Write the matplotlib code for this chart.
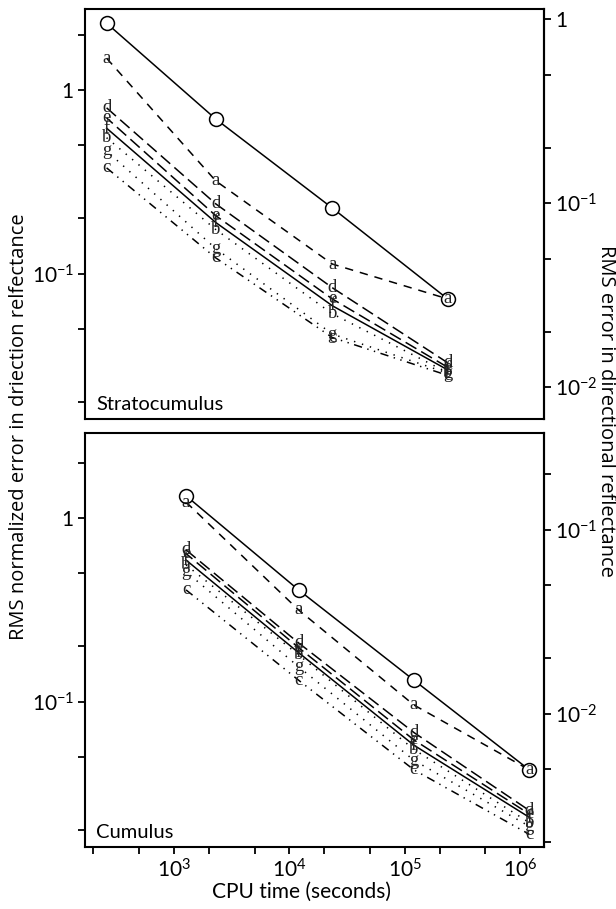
"""
Convergence of RMS reflectance error against CPU time, two cloud fields.
Reference (circles) plus seven method curves labelled a-g.
"""

import math

import matplotlib
matplotlib.use("Agg")
import matplotlib.pyplot as plt
from matplotlib.ticker import FixedLocator, NullFormatter, FuncFormatter

plt.rcParams["font.family"] = ["Lato", "DejaVu Sans"]
plt.rcParams["mathtext.fontset"] = "custom"
plt.rcParams["mathtext.rm"] = "Lato"
plt.rcParams["mathtext.it"] = "Lato"
plt.rcParams["lines.scale_dashes"] = False

# ---- data ----
METHODS = ["a", "d", "e", "f", "b", "g", "c"]

# stratocumulus
SC_TIME = [2.6e2, 2.3e3, 2.35e4, 2.35e5]
SC_REF = [2.31, 0.695, 0.228, 0.073]
SC_A = [1.49, 0.32, 0.113, 0.073]
SC_D = [0.80, 0.24, 0.084, 0.0328]
SC_E = [0.705, 0.207, 0.073, 0.031]
SC_F = [0.62, 0.19, 0.067, 0.030]
SC_B = [0.55, 0.174, 0.0606, 0.029]
SC_G = [0.466, 0.137, 0.047, 0.0288]
SC_C = [0.377, 0.122, 0.045, 0.028]

# cumulus
CU_TIME = [1.27e3, 1.2e4, 1.2e5, 1.2e6]
CU_REF = [1.32, 0.406, 0.131, 0.0426]
CU_A = [1.22, 0.316, 0.096, 0.0426]
CU_D = [0.67, 0.209, 0.068, 0.0256]
CU_E = [0.64, 0.197, 0.062, 0.0245]
CU_F = [0.59, 0.185, 0.058, 0.0235]
CU_B = [0.555, 0.180, 0.055, 0.022]
CU_G = [0.51, 0.155, 0.048, 0.021]
CU_C = [0.406, 0.131, 0.0426, 0.019]

STYLES = {
    "a": (0, (6, 5)),
    "d": (0, (9, 4)),
    "e": (3, (9, 4)),
    "f": "-",
    "b": (0, (1, 5)),
    "g": (2, (1, 5)),
    "c": (0, (6, 4, 1, 4, 1, 4)),
}

XTICKS_MAJOR = [1e3, 1e4, 1e5, 1e6]
XTICKS_MINOR = [2e2, 5e2, 2e3, 5e3, 2e4, 5e4, 2e5, 5e5]
YTICKS_MAJOR = [1e-3, 1e-2, 1e-1, 1]
YTICKS_MINOR = [2e-3, 5e-3, 2e-2, 5e-2, 2e-1, 5e-1, 2]


def log_label(v, pos=None):
    if abs(v - 1) < 1e-9:
        return "1"
    return r"$10^{%d}$" % int(round(math.log10(v)))


def style_axis(axis):
    if axis.axis_name == "y":
        major, minor = YTICKS_MAJOR, YTICKS_MINOR
    else:
        major, minor = XTICKS_MAJOR, XTICKS_MINOR
    axis.set_major_locator(FixedLocator(major))
    axis.set_minor_locator(FixedLocator(minor))
    axis.set_major_formatter(FuncFormatter(log_label))
    axis.set_minor_formatter(NullFormatter())


def draw_panel(ax, t, ref, series, right_factor, name):
    ax.set_xscale("log")
    ax.set_yscale("log")
    ax.plot(t, ref, color="black", lw=1.1, marker="o", ms=10,
            mfc="white", mec="black", mew=1.1, zorder=3)
    for m in METHODS:
        ys = series[m]
        ax.plot(t, ys, color="black", lw=1.1, ls=STYLES[m])
        for x, y in zip(t, ys):
            ax.text(x, y, m, ha="center", va="center", fontsize=13.5,
                    family="Liberation Serif", color="#222")
    ax.set_xlim(169, 1.61e6)
    for s in ax.spines.values():
        s.set_linewidth(1.5)
    style_axis(ax.yaxis)
    style_axis(ax.xaxis)
    ax.tick_params(which="both", direction="out", length=5, width=1.3,
                   labelsize=15, pad=3)
    ax.text(0.025, 0.015, name, transform=ax.transAxes, fontsize=14.5,
            ha="left", va="bottom")
    sec = ax.secondary_yaxis("right", functions=(lambda y: y * right_factor,
                                                 lambda y: y / right_factor))
    style_axis(sec.yaxis)
    sec.spines["right"].set_linewidth(1.5)
    sec.tick_params(which="both", direction="out", length=5, width=1.3,
                    labelsize=15, pad=3)
    return sec


fig = plt.figure(figsize=(6.16, 9.09), dpi=100)
ax_top = fig.add_axes([85 / 616, 1 - 419 / 909, 459 / 616, 410 / 909])
ax_bot = fig.add_axes([85 / 616, 1 - 847 / 909, 459 / 616, 414 / 909])

sc = dict(zip(METHODS, [SC_A, SC_D, SC_E, SC_F, SC_B, SC_G, SC_C]))
cu = dict(zip(METHODS, [CU_A, CU_D, CU_E, CU_F, CU_B, CU_G, CU_C]))

draw_panel(ax_top, SC_TIME, SC_REF, sc, 0.413, "Stratocumulus")
ax_top.set_ylim(0.0162, 2.76)
ax_top.tick_params(axis="x", which="both", bottom=False, labelbottom=False)

draw_panel(ax_bot, CU_TIME, CU_REF, cu, 0.116, "Cumulus")
ax_bot.set_ylim(0.0162, 2.9)

fig.text(19 / 616, 1 - 427 / 909, "RMS normalized error in driection relfectance",
         rotation=90, ha="center", va="center", fontsize=14.5,
         family="Open Sans")
fig.text(606 / 616, 1 - 411 / 909, "RMS error in directional reflectance",
         rotation=270, ha="center", va="center", fontsize=14.5,
         family="Open Sans")
fig.text(302 / 616, 1 - 892 / 909, "CPU time (seconds)",
         ha="center", va="center", fontsize=15)

fig.savefig("out.png", dpi=100)
